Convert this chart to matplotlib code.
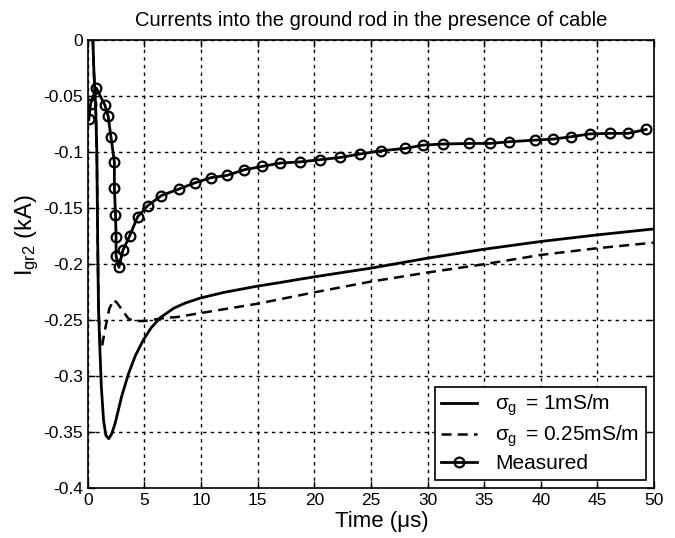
import matplotlib
matplotlib.use('Agg')
import matplotlib.pyplot as plt

# measured points
t_meas = [0.1, 0.25, 0.75, 1.5, 1.8, 2.05, 2.35, 2.35, 2.45, 2.5, 2.5, 2.75, 3.1, 3.7, 4.4, 5.3,
          6.5, 8.1, 9.5, 10.9, 12.3, 13.8, 15.4, 17.0, 18.7, 20.5, 22.3, 24.0, 25.9, 28.0,
          29.6, 31.4, 33.7, 35.5, 37.2, 39.5, 41.1, 42.7, 44.3, 46.1, 47.7, 49.3]
i_meas = [-0.071, -0.057, -0.043, -0.058, -0.068, -0.087, -0.109, -0.132, -0.156, -0.176,
          -0.193, -0.203, -0.188, -0.175, -0.158, -0.148, -0.139, -0.133, -0.1275, -0.123,
          -0.121, -0.116, -0.113, -0.110, -0.109, -0.107, -0.105, -0.102, -0.099, -0.097,
          -0.094, -0.093, -0.0925, -0.0925, -0.091, -0.0895, -0.0886, -0.0865, -0.084,
          -0.0835, -0.0835, -0.080]

# sigma_g = 1 mS/m
t_1 = [0.45, 0.55, 0.7, 0.8, 0.85, 0.9, 0.95, 1.05, 1.2, 1.4, 1.6, 1.85, 2.1, 2.4, 3.0,
       3.6, 4.2, 4.9, 5.6, 6.4, 7.6, 8.6, 9.9, 12.0, 14.9, 17.0, 18.7, 21.0, 25.0, 30.0,
       35.0, 40.0, 45.0, 50.0]
i_1 = [0.0, -0.03, -0.06, -0.1, -0.15, -0.2, -0.24, -0.27, -0.31, -0.34, -0.353, -0.356,
       -0.352, -0.343, -0.318, -0.298, -0.282, -0.268, -0.257, -0.248, -0.2395, -0.235,
       -0.2306, -0.2255, -0.220, -0.2166, -0.2137, -0.2100, -0.2038, -0.1949, -0.1869,
       -0.180, -0.1741, -0.1688]

# sigma_g = 0.25 mS/m
t_025 = [0.45, 0.55, 0.7, 0.8, 0.85, 0.9, 0.95, 1.1, 1.25, 1.5, 1.9, 2.3, 2.6, 3.1, 3.6,
         4.2, 5.0, 6.0, 7.0, 7.85, 9.9, 14.9, 17.0, 19.9, 25.0, 30.0, 35.0, 40.0, 45.0, 50.0]
i_025 = [0.0, -0.03, -0.06, -0.1, -0.15, -0.2, -0.24, -0.27, -0.274, -0.26, -0.24, -0.232,
         -0.235, -0.242, -0.249, -0.251, -0.251, -0.2495, -0.248, -0.2475, -0.244, -0.2357,
         -0.2315, -0.2256, -0.2158, -0.2077, -0.2003, -0.192, -0.186, -0.181]

plt.rcParams['font.family'] = ['Liberation Sans', 'DejaVu Sans']
plt.rcParams['axes.unicode_minus'] = False
plt.rcParams['mathtext.fontset'] = 'custom'
plt.rcParams['mathtext.rm'] = 'Liberation Sans'
plt.rcParams['mathtext.it'] = 'Liberation Sans'

fig = plt.figure(figsize=(6.75, 5.38), dpi=100)
ax = fig.add_axes([0.130, 0.093, 0.839, 0.833])

ax.plot(t_1, i_1, color='black', lw=2, label=r'$\sigma_{\mathrm{g}}\,$ = 1mS/m')
ax.plot(t_025, i_025, color='black', lw=1.8, linestyle=(0, (4, 2.5)),
        label=r'$\sigma_{\mathrm{g}}\,$ = 0.25mS/m')
ax.plot(t_meas, i_meas, color='black', lw=2, marker='o', ms=7, mfc='none', mew=1.6,
        label='Measured')

ax.set_xlim(0, 50)
ax.set_ylim(-0.4, 0)
ax.set_xticks(range(0, 51, 5))
yt = [0, -0.05, -0.1, -0.15, -0.2, -0.25, -0.3, -0.35, -0.4]
ax.set_yticks(yt)
ax.set_yticklabels(['%g' % v for v in yt])
ax.tick_params(direction='in', top=True, right=True, labelsize=12.5, length=5, width=1)
ax.grid(True, color='black', linestyle=(0, (2.5, 3)), lw=1)
for s in ax.spines.values():
    s.set_linewidth(1.2)

ax.set_title('Currents into the ground rod in the presence of cable', fontsize=14.5, pad=10)
ax.set_xlabel('Time (\u03bcs)', fontsize=16, labelpad=2)
ax.set_ylabel(r'I$_{\mathrm{gr2}}$ (kA)', fontsize=17)
ax.xaxis.label.set_x(0.52)
ax.yaxis.set_label_coords(-0.082, 0.565)

leg = ax.legend(loc='lower right', fontsize=15, fancybox=False, framealpha=1,
                edgecolor='black', borderaxespad=0.4, handlelength=1.7,
                handletextpad=0.9, labelspacing=0.25, borderpad=0.3)
leg.get_frame().set_linewidth(1.2)

fig.savefig('out.png', dpi=100)
